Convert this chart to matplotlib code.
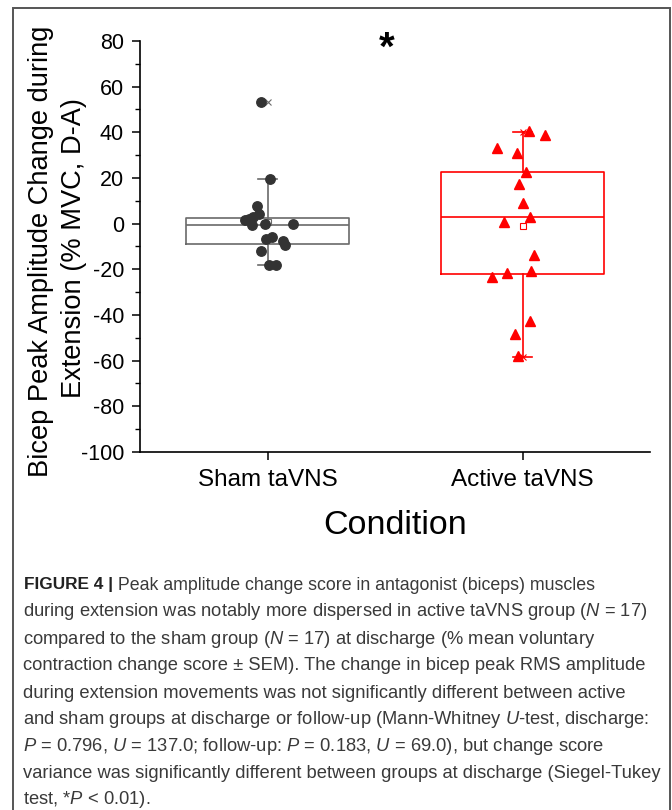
import matplotlib
matplotlib.use('Agg')
import matplotlib.pyplot as plt
from matplotlib.ticker import MultipleLocator
from matplotlib.patches import Rectangle

plt.rcParams['font.family'] = ['Liberation Sans', 'DejaVu Sans']
plt.rcParams['mathtext.fontset'] = 'custom'
plt.rcParams['mathtext.rm'] = 'Liberation Sans'
plt.rcParams['mathtext.it'] = 'Liberation Sans:italic'
plt.rcParams['mathtext.bf'] = 'Liberation Sans:bold'

# ---------------- data ----------------
categories = ['Sham taVNS', 'Active taVNS']
positions = [1, 2]

sham_values = [53.5, 19.7, 7.9, 4.2, 3.05, 1.9, 1.6, -0.7, 0.0, -0.3,
               -6.6, -5.7, -7.5, -9.5, -12.0, -18.2, -18.2]
sham_jitter = [-0.024, 0.009, -0.041, -0.035, -0.056, -0.072, -0.088, -0.06, -0.009, 0.101,
               -0.007, 0.017, 0.06, 0.067, -0.025, 0.006, 0.032]

active_values = [40.7, 38.8, 33.0, 31.1, 22.8, 17.2, 8.9, 3.1, 0.6,
                 -13.7, -20.7, -21.7, -23.5, -42.5, -48.3, -58.0]
active_jitter = [0.024, 0.087, -0.10, -0.022, 0.015, -0.014, 0.002, 0.031, -0.071,
                 0.047, 0.034, -0.06, -0.119, 0.031, -0.031, -0.016]

# box statistics (q1, median, q3, whisker low, whisker high, mean, min, max)
box_q1 = [-9.0, -22.0]
box_med = [-0.6, 2.8]
box_q3 = [2.4, 22.6]
box_whislo = [-18.2, -58.3]
box_whishi = [19.7, 40.1]
box_mean = [0.8, -0.9]
data_min = [-18.2, -58.3]
data_max = [53.5, 40.3]

yticks = [-100, -80, -60, -40, -20, 0, 20, 40, 60, 80]

ylabel_lines = ["Bicep Peak Amplitude Change during", "Extension (% MVC, D-A)"]
xlabel = "Condition"

caption_lines = [
    None,
    "during extension was notably more dispersed in active taVNS group ($N$ = 17)",
    "compared to the sham group ($N$ = 17) at discharge (% mean voluntary",
    "contraction change score \u00b1 SEM). The change in bicep peak RMS amplitude",
    "during extension movements was not significantly different between active",
    "and sham groups at discharge or follow-up (Mann-Whitney $U$-test, discharge:",
    "$P$ = 0.796, $U$ = 137.0; follow-up: $P$ = 0.183, $U$ = 69.0), but change score",
    "variance was significantly different between groups at discharge (Siegel-Tukey",
    "test, *$P$ < 0.01).",
]
caption_bold = "FIGURE 4 |"
caption_first_rest = " Peak amplitude change score in antagonist (biceps) muscles"

# ---------------- figure ----------------
W, H = 672, 810
fig = plt.figure(figsize=(W / 100, H / 100), dpi=100)
fig.patch.set_facecolor('white')

ax_left, ax_right, ax_top, ax_bottom = 140, 650, 41, 452
ax = fig.add_axes([ax_left / W, 1 - ax_bottom / H, (ax_right - ax_left) / W, (ax_bottom - ax_top) / H])

colors = ['#6a6a6a', '#ff0000']
point_colors = ['#333333', '#ff0000']

for i in range(2):
    stats = [dict(q1=box_q1[i], med=box_med[i], q3=box_q3[i], whislo=box_whislo[i],
                  whishi=box_whishi[i], mean=box_mean[i], fliers=[])]
    c = colors[i]
    ax.bxp(stats, positions=[positions[i]], widths=0.638, capwidths=0.078,
           showmeans=True, showfliers=False, patch_artist=False,
           boxprops=dict(color=c, linewidth=1.2),
           medianprops=dict(color=c, linewidth=1.2),
           whiskerprops=dict(color=c, linewidth=1.2),
           capprops=dict(color=c, linewidth=1.2),
           meanprops=dict(marker='s', markerfacecolor='none', markeredgecolor=c,
                          markersize=4, markeredgewidth=0.8),
           zorder=2)
    ax.plot([positions[i], positions[i]], [data_min[i], data_max[i]], linestyle='none',
            marker='x', color=c, markersize=4.5, markeredgewidth=0.8, zorder=2)

ax.plot([positions[0] + j for j in sham_jitter], sham_values, linestyle='none',
        marker='o', markersize=6.8, color=point_colors[0], zorder=3)
ax.plot([positions[1] + j for j in active_jitter], active_values, linestyle='none',
        marker='^', markersize=7.6, color=point_colors[1], zorder=3)

ax.set_xlim(0.5, 2.5)
ax.set_ylim(-100, 80)
ax.set_yticks(yticks)
ax.set_yticklabels([str(t) for t in yticks])
ax.yaxis.set_minor_locator(MultipleLocator(10))
ax.set_xticks(positions)
ax.set_xticklabels(categories)
for s in ['top', 'right']:
    ax.spines[s].set_visible(False)
for s in ['left', 'bottom']:
    ax.spines[s].set_linewidth(1.2)
ax.tick_params(axis='both', which='major', direction='out', length=6, width=1.1, colors='black')
ax.tick_params(axis='y', which='major', pad=5.5, labelsize=15.5)
ax.tick_params(axis='x', which='major', pad=6, labelsize=17.5)
ax.tick_params(axis='y', which='minor', direction='out', length=3.5, width=1.0)

# axis titles (two separate lines for the y title)
fig.text(41.5 / W, 1 - 251 / H, ylabel_lines[0], rotation=90, ha='center', va='center',
         fontsize=19.6)
fig.text(74 / W, 1 - 248 / H, ylabel_lines[1], rotation=90, ha='center', va='center',
         fontsize=19.6)
fig.text(395 / W, 1 - 525 / H, xlabel, ha='center', va='center', fontsize=24.5)

# significance star
fig.text(387 / W, 1 - 60 / H, "*", ha='center', va='baseline', fontsize=29, fontweight='bold')

# caption
cap_color = '#3a3a3a'
cap_size = 13.2
line_y = [585, 612, 639, 666, 693, 720, 746.5, 773, 799.5]
t0 = fig.text(24 / W, 1 - line_y[0] / H, caption_bold, ha='left', va='center',
              fontsize=12.4, fontweight='bold', color='#222222')
ax.annotate(caption_first_rest, xy=(1, 0.5), xycoords=t0, ha='left', va='center',
            fontsize=cap_size - 0.4, color=cap_color, annotation_clip=False)
for k in range(1, len(caption_lines)):
    fig.text(23 / W, 1 - line_y[k] / H, caption_lines[k], ha='left', va='center',
             fontsize=cap_size, color=cap_color)

# frame around the whole figure
fig.add_artist(Rectangle((13 / W, -0.05), (670 - 13) / W, 1.05 - 8.5 / H,
                         transform=fig.transFigure, fill=False, edgecolor='#555555',
                         linewidth=1.4, clip_on=False))

fig.savefig('out.png', dpi=100, facecolor='white')
